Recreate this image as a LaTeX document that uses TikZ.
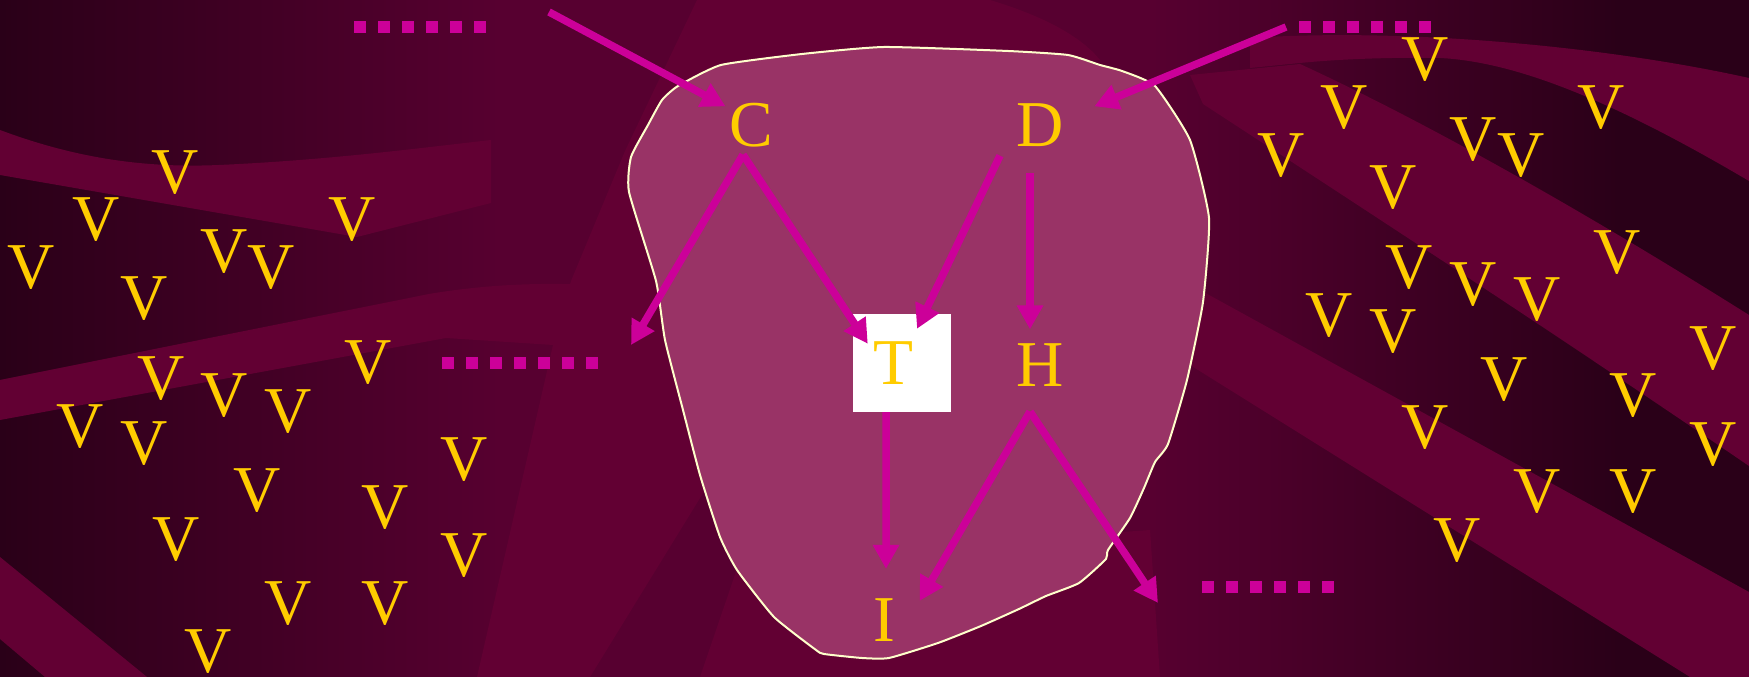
\documentclass[tikz,border=0pt]{standalone}
\usepackage{fontspec}
\setmainfont{Liberation Serif}
\usetikzlibrary{arrows.meta}
\definecolor{mdark}{HTML}{2A0018}
\definecolor{mmid}{HTML}{570030}
\definecolor{mband}{HTML}{620033}
\definecolor{mblob}{HTML}{993366}
\definecolor{medge}{HTML}{FFFFCC}
\definecolor{mmag}{HTML}{CC0099}
\definecolor{mgold}{HTML}{FFCC00}
\tikzset{
  band/.style={fill=mband},
  letter/.style={text=mgold, inner sep=0pt, font=\fontsize{18.6}{20}\selectfont},
  tbox/.style={letter, fill=white, minimum size=0.97cm},
  arr/.style={-{Triangle[length=0.24cm,width=0.25cm]}, line width=0.075cm, mmag},
  dotline/.style={mmag, line width=0.12cm, dash pattern=on 0.12cm off 0.12cm},
}
\begin{document}
\begin{tikzpicture}[x=0.01cm, y=-0.01cm]
  \useasboundingbox (0,0) rectangle (1749,677);
  \clip (0,0) rectangle (1749,677);

  % background
  \fill[mdark] (0,0) rectangle (1749,677);
  \shade[left color=mdark, right color=mmid] (0,0) rectangle (500,677);
  \fill[mmid] (500,0) rectangle (1150,677);
  \shade[left color=mmid, right color=mdark] (1150,0) rectangle (1620,677);

  \fill[band] (697,0) -- (790,0) -- (720,300) -- (705,490) -- (590,677) -- (477,677)
    -- (553,345) -- (571,281) -- (625,151) -- cycle;
  \fill[band] (0,130) .. controls (80,160) and (150,168) .. (219,165)
    .. controls (330,160) and (420,148) .. (491,140) -- (491,203) -- (357,237) -- (0,175) -- cycle;
  \fill[band] (0,380) -- (429,294) .. controls (500,282) and (580,280) .. (665,292)
    -- (672,372) .. controls (620,352) and (580,345) .. (553,345) -- (446,338) -- (0,420) -- cycle;
  \fill[band] (0,557) -- (147,677) -- (45,677) -- (0,639) -- cycle;
  \fill[band] (700,90) .. controls (730,40) and (750,15) .. (765,0) -- (990,0)
    .. controls (1040,15) and (1080,35) .. (1100,60) -- cycle;
  \fill[band] (740,560) -- (1150,530) -- (1160,677) -- (700,677) -- cycle;
  \fill[band] (1250,38) .. controls (1400,28) and (1600,45) .. (1749,78) -- (1749,181)
    .. controls (1620,105) and (1520,62) .. (1440,58) .. controls (1380,57) and (1330,60) .. (1300,63)
    -- (1250,68) -- cycle;
  \fill[band] (1190,75) -- (1300,64) .. controls (1400,110) and (1550,190) .. (1749,315)
    -- (1749,466) .. controls (1550,330) and (1350,200) .. (1203,104) -- cycle;
  \fill[band] (1200,290) -- (1749,592) -- (1749,677) -- (1690,677) -- (1190,365) -- cycle;

  % blob
  \draw[medge, line width=0.02cm, fill=mblob] plot[smooth cycle, tension=0.3] coordinates {
    (648,125) (662,100) (678,86) (721,65) (802,54) (884,47) (1008,51) (1068,55)
    (1100,65) (1122,71) (1155,86) (1190,140) (1209,218) (1203,302) (1187,380)
    (1168,444) (1155,462) (1144,488) (1130,518) (1108,550) (1106,559) (1079,583)
    (1046,596) (1019,609) (981,626) (938,643) (889,658) (862,658) (824,654)
    (816,650) (774,617) (737,570) (720,537) (700,475) (683,410) (665,340)
    (656,281) (629,192) (631,157)};

  \draw[dotline] (354,27) -- (486,27);
  \draw[dotline] (1299,27) -- (1431,27);
  \draw[dotline] (442,363) -- (598,363);
  \draw[dotline] (1202,587) -- (1334,587);

  \node[letter] (C) at (751,125) {C};
  \node[letter] (D) at (1040,125) {D};
  \node[tbox] (T) at (902,363) {\hspace{-0.18cm}T};
  \node[letter] (H) at (1040,365) {H};
  \node[letter] (I) at (884,620) {I};
  \coordinate (inC) at (549,12);
  \coordinate (inD) at (1286,27);
  \coordinate (outC) at (631,345);
  \coordinate (outH) at (1158,603);

  \draw[arr] (inC) -- ([xshift=-0.03cm,yshift=-0.04cm]C.north west);
  \draw[arr] (inD) -- ([xshift=0.3cm,yshift=-0.035cm]D.north east);
  \draw[arr] ([xshift=-0.08cm,yshift=-0.07cm]C.south) -- (outC);
  \draw[arr] ([xshift=-0.08cm,yshift=-0.07cm]C.south) -- ([xshift=0.15cm,yshift=-0.3cm]T.north west);
  \draw[arr] ([xshift=-0.4cm,yshift=-0.085cm]D.south) -- ([xshift=0.15cm,yshift=-0.15cm]T.north);
  \draw[arr] ([xshift=-0.1cm,yshift=-0.255cm]D.south) -- ([xshift=-0.1cm,yshift=0.135cm]H.north);
  \draw[arr] ([xshift=-0.16cm]T.south) -- ([xshift=0.02cm,yshift=0.29cm]I.north);
  \draw[arr] ([xshift=-0.1cm,yshift=-0.245cm]H.south) -- ([xshift=0.24cm,yshift=-0.03cm]I.north east);
  \draw[arr] ([xshift=-0.1cm,yshift=-0.245cm]H.south) -- (outH);

  \foreach \x/\y [count=\i] in {175/173, 96/220, 31/268, 224/252, 271/268, 144/299, 352/220,
      161/379, 224/396, 288/412, 368/363, 80/427, 144/444, 257/491, 464/460, 385/508,
      176/540, 464/556, 288/604, 385/604, 208/652,
      1425/60, 1344/108, 1601/108, 1281/156, 1473/140, 1521/156, 1393/188, 1617/253,
      1409/268, 1473/285, 1537/300, 1329/316, 1393/332, 1713/349, 1504/380, 1633/396,
      1425/428, 1713/445, 1537/492, 1633/492, 1457/541}
    \node[letter] (v\i) at (\x,\y) {V};
\end{tikzpicture}
\end{document}
